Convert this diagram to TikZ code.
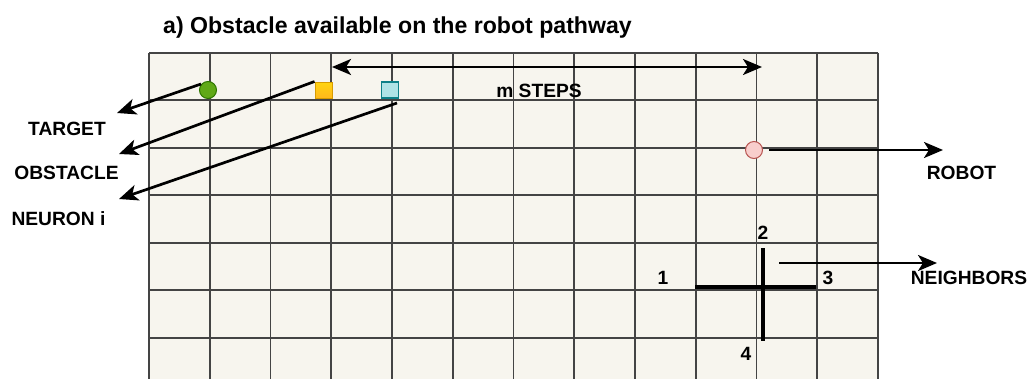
\documentclass[tikz,border=0pt]{standalone}
\usepackage{fontspec}
\setmainfont{Liberation Sans}
\usetikzlibrary{arrows.meta}
\definecolor{gridfill}{HTML}{F7F5EE}
\definecolor{gridline}{HTML}{444444}
\definecolor{greenfill}{HTML}{60A917}
\definecolor{greenline}{HTML}{2D7600}
\definecolor{orangefill}{HTML}{FFB81C}
\definecolor{orangeline}{HTML}{D79B00}
\definecolor{cyanfill}{HTML}{B0E3E6}
\definecolor{cyanline}{HTML}{0E8088}
\definecolor{pinkfill}{HTML}{F8CECC}
\definecolor{pinkline}{HTML}{B85450}
\tikzset{
  lbl/.style={font=\fontsize{19.2}{21}\selectfont\bfseries, inner sep=0pt, anchor=base},
  ttl/.style={font=\fontsize{23.1}{25}\selectfont\bfseries, inner sep=0pt, anchor=base west},
  arr/.style={line width=2.7pt, -{Stealth[length=19pt,width=16pt,inset=5pt]}},
  darr/.style={line width=2.7pt, {Stealth[length=19pt,width=16pt,inset=5pt]}-{Stealth[length=19pt,width=16pt,inset=5pt]}},
  crossline/.style={line width=3.2pt},
}
\begin{document}
\begin{tikzpicture}[x=1pt,y=-1pt]
\useasboundingbox (0,0) rectangle (1030,378);
% grid
\begin{scope}
\clip (0,0) rectangle (1030,378);
\fill[gridfill] (149,52.7) rectangle (878,400);
\foreach \i in {0,...,12} {
  \draw[gridline, line width=1.8pt] (149+\i*60.75,52.7) -- (149+\i*60.75,400);
}
\foreach \j in {0,...,7} {
  \draw[gridline, line width=1.8pt] (149,52.7+\j*47.5) -- (878,52.7+\j*47.5);
}
\end{scope}
% title
\node[ttl] (title) at (163,33) {a) Obstacle available on the robot pathway};
% objects
\node[circle, draw=greenline, fill=greenfill, line width=1pt, minimum size=17pt, inner sep=0pt] (target) at (208,90) {};
\node[rectangle, draw=orangeline, top color=orangefill!60!yellow, bottom color=orangefill, line width=1pt, minimum width=17pt, minimum height=16pt, inner sep=0pt] (obstacle) at (323.5,90) {};
\node[rectangle, draw=cyanline, fill=cyanfill, line width=1.2pt, minimum width=17pt, minimum height=16pt, inner sep=0pt] (neuron) at (390,90) {};
\node[circle, draw=pinkline, fill=pinkfill, line width=1pt, minimum size=17pt, inner sep=0pt] (robot) at (754,150) {};
% labels
\node[lbl] (ltarget) at (67,135) {TARGET};
\node[lbl] (lobstacle) at (66.5,179) {OBSTACLE};
\node[lbl] (lneuron) at (58.5,225) {NEURON i};
\node[lbl] (lrobot) at (961.5,179) {ROBOT};
\node[lbl] (lneigh) at (969,284) {NEIGHBORS};
\node[lbl] (lsteps) at (539,97) {m STEPS};
\node[lbl] (n1) at (663,284) {1};
\node[lbl] (n2) at (763,239) {2};
\node[lbl] (n3) at (828,284) {3};
\node[lbl] (n4) at (746,360) {4};
% arrow endpoints
\coordinate (ttip) at (117,113);
\coordinate (otip) at (119,154);
\coordinate (ntip) at (119,199);
\coordinate (rtip) at (943,150);
\coordinate (nbstart) at (779,263);
\coordinate (nbtip) at (937,263);
\coordinate (sleft) at (332,67);
\coordinate (sright) at (762,67);
\coordinate (vtop) at (763,248);
\coordinate (vbot) at (763,341);
\coordinate (hleft) at (695,287);
\coordinate (hright) at (816,287);
% connectors
\draw[arr] ([shift={(-7,-6)}]target.center) -- (ttip);
\draw[arr] (obstacle.north west) -- (otip);
\draw[arr] ([shift={(7,13)}]neuron.center) -- (ntip);
\draw[arr] ([xshift=6pt]robot.east) -- (rtip);
\draw[arr] (nbstart) -- (nbtip);
\draw[darr] (sleft) -- (sright);
\draw[crossline] (vtop) -- (vbot);
\draw[crossline] (hleft) -- (hright);
\end{tikzpicture}
\end{document}
